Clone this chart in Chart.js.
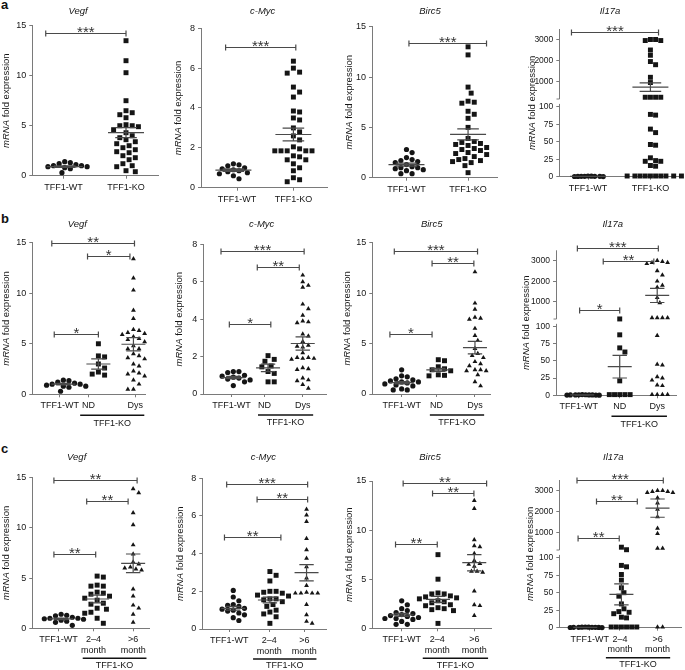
<!DOCTYPE html>
<html>
<head>
<meta charset="utf-8">
<script src="https://cdn.jsdelivr.net/npm/chart.js@4.4.1/dist/chart.umd.min.js"></script>
<style>
  body { margin: 0; background: #fff; width: 685px; height: 670px; position: relative; overflow: hidden;
         font-family: 'Liberation Sans', Arial, Helvetica, sans-serif; }
  canvas { position: absolute; }
  .tag { position: absolute; font-weight: bold; font-size: 13px; line-height: 13px; color: #111; }
</style>
</head>
<body>
<div class="tag" style="left:1px;top:-2px">a</div>
<div class="tag" style="left:1px;top:212px">b</div>
<div class="tag" style="left:1px;top:442px">c</div>
<script>
// ---- values (fold expression per animal) ----
const catsA = ['TFF1-WT', 'TFF1-KO'];
const catsB = ['TFF1-WT', 'ND', 'Dys'];
const catsC = ['TFF1-WT', ['2–4', 'month'], ['>6', 'month']];
const ticks15 = [0, 5, 10, 15];
const ticks8 = [0, 2, 4, 6, 8];
const ticksIl = [0, 25, 50, 75, 100, 1000, 2000, 3000];

// row a
const aVegfWT = [1.4, 1.3, 1.2, 1.1, 1.0, 1.0, 0.9, 0.9, 0.8, 0.7, 0.3];
const aVegfKO = [13.5, 11.5, 10.3, 7.5, 6.5, 6.3, 6.1, 5.8, 5.1, 5.0, 5.0, 4.9, 4.6, 4.3, 4.0, 3.8, 3.6, 3.4, 3.2, 3.0, 2.8, 2.6, 2.4, 2.3, 2.0, 1.8, 1.6, 1.2, 1.0, 0.9, 0.5, 0.4];
const aVegfMean = [0.9, 4.3], aVegfSem = [0.08, 0.5];
const aMycWT = [1.2, 1.15, 1.1, 1.0, 0.95, 0.9, 0.85, 0.8, 0.75, 0.7, 0.6, 0.45];
const aMycKO = [6.35, 6.0, 5.8, 5.75, 5.05, 4.8, 4.55, 3.85, 3.8, 3.5, 3.4, 3.0, 2.8, 2.6, 2.4, 2.05, 1.95, 1.85, 1.85, 1.85, 1.85, 1.85, 1.6, 1.55, 1.4, 1.4, 1.2, 1.0, 0.85, 0.5, 0.4, 0.3];
const aMycMean = [0.88, 2.67], aMycSem = [0.06, 0.32];
const aBircWT = [2.8, 2.5, 2.0, 1.8, 1.7, 1.6, 1.5, 1.3, 1.1, 1.0, 1.0, 0.9, 0.8, 0.7, 0.4, 0.4];
const aBircKO = [13.0, 12.2, 9.0, 8.4, 7.6, 7.5, 7.4, 6.6, 6.3, 5.9, 5.0, 3.9, 3.6, 3.5, 3.4, 3.3, 3.2, 3.0, 2.9, 2.8, 2.7, 2.5, 2.4, 2.3, 2.1, 1.9, 1.8, 1.7, 1.6, 1.5, 1.2, 0.5];
const aBircMean = [1.3, 4.3], aBircSem = [0.15, 0.55];
const aIlWT = [0.3, 0.5, 0.8, 0.5, 0.2, 0.6, 1.0, 0.4, 0.5];
const aIlKO = [3000, 2950, 2950, 3000, 2500, 2250, 1950, 1800, 1200, 950, 250, 250, 250, 250, 89, 88, 68, 63, 46, 45, 27, 23, 22, 22, 16, 15, 1, 1, 1, 1, 1, 1, 1, 1, 1, 1];
const aIlMean = [0.5, 730], aIlSem = [0.1, 200];

// row b
const bVegfWT = [1.4, 1.35, 1.2, 1.1, 1.0, 1.0, 0.9, 0.8, 0.8, 0.7, 0.3];
const bVegfND = [5.0, 3.8, 3.7, 3.0, 2.6, 2.2, 2.0, 1.9];
const bVegfDys = [13.4, 11.5, 10.3, 8.3, 7.5, 6.4, 6.3, 6.1, 6.0, 5.9, 5.7, 5.5, 5.2, 5.4, 4.8, 4.5, 4.5, 4.0, 3.8, 3.6, 3.5, 3.0, 2.8, 2.3, 2.1, 2.0, 1.8, 1.4, 1.0, 0.5, 0.5];
const bVegfMean = [1.0, 3.0, 4.95], bVegfSem = [0.08, 0.5, 0.65];
const bMycWT = [1.2, 1.2, 1.15, 1.0, 0.95, 0.9, 0.85, 0.8, 0.75, 0.65, 0.45];
const bMycND = [2.05, 1.85, 1.75, 1.5, 1.45, 1.2, 1.1, 0.65, 0.65];
const bMycDys = [6.35, 6.0, 5.8, 5.7, 4.8, 4.55, 4.2, 3.9, 3.85, 3.8, 3.2, 3.1, 2.8, 2.6, 2.55, 2.5, 2.2, 1.95, 1.95, 1.9, 1.9, 1.85, 1.4, 1.35, 1.3, 0.85, 0.75, 0.7, 0.5, 0.3];
const bMycMean = [0.88, 1.4, 2.7], bMycSem = [0.06, 0.2, 0.35];
const bBircWT = [2.4, 1.8, 1.7, 1.5, 1.4, 1.3, 1.2, 1.2, 1.1, 1.0, 0.9, 0.8, 0.5, 0.4, 0.4];
const bBircND = [3.4, 3.3, 2.7, 2.5, 2.4, 2.3, 1.9, 1.85, 1.8];
const bBircDys = [12.1, 9.0, 8.4, 7.6, 7.5, 7.4, 6.5, 5.8, 5.3, 4.5, 4.0, 3.8, 3.6, 3.2, 3.0, 2.8, 2.4, 2.4, 2.3, 2.3, 1.9, 1.2, 0.8];
const bBircMean = [1.12, 2.4, 4.6], bBircSem = [0.12, 0.15, 0.62];
const bIlWT = [0.3, 0.5, 0.8, 0.5, 0.2, 0.6, 1.0, 0.4, 0.5, 0.7];
const bIlND = [170, 88, 69, 63, 21, 1, 1, 1, 1, 1];
const bIlDys = [3000, 2950, 2900, 2900, 2850, 2500, 2300, 2000, 1800, 1700, 1200, 950, 220, 220, 220, 220, 87, 45, 44, 27, 25, 22, 15, 14, 1, 1, 1, 1];
const bIlMean = [0.5, 41.7, 1309], bIlSem = [0.1, 16.5, 340];

// row c
const cVegfWT = [1.4, 1.3, 1.25, 1.1, 1.0, 1.0, 0.95, 0.9, 0.8, 0.7, 0.6, 0.3];
const cVegf24 = [5.2, 5.1, 4.3, 4.2, 4.2, 3.6, 3.5, 3.4, 3.2, 3.0, 2.8, 2.5, 2.4, 2.0, 1.9, 1.6, 1.5, 1.0, 0.5];
const cVegf6 = [13.9, 13.5, 11.5, 10.3, 8.3, 7.4, 6.6, 6.4, 6.1, 6.0, 5.9, 5.8, 3.9, 3.2, 2.3, 2.0, 1.4, 0.6];
const cVegfMean = [0.93, 2.92, 6.47], cVegfSem = [0.08, 0.38, 0.93];
const cMycWT = [2.05, 1.7, 1.5, 1.3, 1.25, 1.2, 1.1, 1.05, 1.0, 0.95, 0.85, 0.75, 0.6, 0.45];
const cMyc24 = [3.05, 2.85, 2.55, 2.0, 2.0, 1.95, 1.9, 1.8, 1.75, 1.6, 1.6, 1.55, 1.45, 1.3, 1.2, 1.0, 0.9, 0.8, 0.65, 0.3];
const cMyc6 = [6.35, 6.05, 5.7, 4.8, 4.2, 3.75, 3.3, 2.7, 2.3, 1.95, 1.9, 1.9, 1.9, 1.9, 1.3, 0.75, 0.4, 0.3];
const cMycMean = [1.1, 1.54, 2.99], cMycSem = [0.1, 0.15, 0.43];
const cBircWT = [2.8, 2.4, 2.0, 1.8, 1.6, 1.5, 1.4, 1.3, 1.2, 1.1, 1.0, 1.0, 0.9, 0.7, 0.4, 0.4];
const cBirc24 = [7.5, 5.0, 3.6, 3.5, 3.5, 3.3, 3.2, 3.1, 3.0, 2.8, 2.7, 2.6, 2.4, 2.3, 2.1, 2.0, 1.9, 1.8, 0.5];
const cBirc6 = [13.0, 12.2, 9.0, 8.4, 8.3, 7.6, 6.9, 6.6, 6.5, 6.3, 5.8, 5.8, 5.7, 3.8, 2.4, 2.3, 1.3];
const cBircMean = [1.36, 2.95, 6.68], cBircSem = [0.15, 0.3, 0.83];
const cIlWT = [0.3, 0.5, 0.8, 0.5, 0.2, 0.6, 1.0, 0.4, 0.5, 0.7];
const cIl24 = [300, 180, 89, 87, 76, 68, 57, 50, 45, 34, 27, 23, 22, 20, 15, 14, 1, 1, 1, 1, 1, 1];
const cIl6 = [3000, 3000, 2950, 2950, 2900, 2900, 2650, 2400, 2100, 1750, 1200, 950, 250, 250, 1, 1];
const cIlMean = [0.5, 47.6, 2161], cIlSem = [0.1, 15, 435];

// ---- look ----
const FONT = "'Liberation Sans', Arial, Helvetica, sans-serif";
const INK = '#151515';
const AXIS = '#7a7a7a';
const LINE = '#4a4a4a';
const STYLES = ['circle', 'rect', 'triangle'];
const RADII = [2.6, 3.5, 2.8];
const GAPS = [5.6, 6.2, 5.6];

// Il17a has a broken axis: 0-100 kept as is, everything above squeezed
const BRK_G = 6, BRK_S = 0.03;
function il17(v) { return v <= 100 ? v : 100 + BRK_G + v * BRK_S; }
function same(v) { return v; }

// panel layout (page pixels) - cell = canvas box, plot = axes box
const panels = [
  { gene: 'Vegf', cell: [0, 0, 175, 212], plot: [32.3, 25.7, 158, 175.7], x: [0.471, 2.522], yMax: 15, yTicks: ticks15,
    cats: catsA, labelX: [0.98, 2.0], groups: [aVegfWT, aVegfKO], mean: aVegfMean, sem: aVegfSem,
    brackets: [[0.69, 2.0, 14.23, '***']], title: [78, 11], yTitleX: 6.7, half: 18 },
  { gene: 'c-Myc', cell: [170, 0, 175, 212], plot: [201, 28.3, 327, 187.7], x: [0.46, 2.56], yMax: 8, yTicks: ticks8,
    cats: catsA, labelX: [1.06, 2.0], groups: [aMycWT, aMycKO], mean: aMycMean, sem: aMycSem,
    brackets: [[0.87, 2.04, 7.08, '***']], title: [262.7, 11], yTitleX: 178.3, half: 18 },
  { gene: 'Birc5', cell: [340, 0, 175, 212], plot: [372, 26.7, 497, 177.7], x: [0.44, 2.47], yMax: 15, yTicks: ticks15,
    cats: catsA, labelX: [1.0, 2.0], groups: [aBircWT, aBircKO], mean: aBircMean, sem: aBircSem,
    brackets: [[1.04, 2.3, 13.35, '***']], title: [430, 11], yTitleX: 349, half: 18 },
  { gene: 'Il17a', cell: [510, 0, 175, 212], plot: [559.3, 29, 681.7, 176.7], x: [0.54, 2.49], yMax: 211, yTicks: ticksIl, broken: true,
    cats: catsA, labelX: [1.0, 2.0], groups: [aIlWT, aIlKO], mean: aIlMean, sem: aIlSem, gaps: [3.4, 5.2],
    brackets: [[0.735, 2.13, 206.3, '***']], title: [610, 11], yTitleX: 532.3, half: 18 },

  { gene: 'Vegf', cell: [0, 200, 175, 235], plot: [32.3, 242.7, 145, 394.3], x: [0.114, 3.33], yMax: 15, yTicks: ticks15,
    cats: catsB, labelX: [0.9, 1.72, 3.05], groups: [bVegfWT, bVegfND, bVegfDys], mean: bVegfMean, sem: bVegfSem,
    brackets: [[0.74, 2.0, 5.97, '*'], [1.69, 2.9, 13.68, '*'], [0.67, 3.03, 14.94, '**']],
    title: [77.3, 224], yTitleX: 6.7, half: 12, koLine: [1.48, 3.31], koY: [21, 29] },
  { gene: 'c-Myc', cell: [170, 200, 175, 235], plot: [203.3, 244.3, 326.7, 394], x: [0.135, 3.69], yMax: 8, yTicks: ticks8,
    cats: catsB, labelX: [0.95, 1.9, 3.0], groups: [bMycWT, bMycND, bMycDys], mean: bMycMean, sem: bMycSem,
    brackets: [[0.885, 2.08, 3.74, '*'], [1.69, 2.9, 6.77, '**'], [0.645, 3.04, 7.65, '***']],
    title: [261.7, 224], yTitleX: 179, half: 12, koLine: [1.71, 3.3], koY: [21, 29] },
  { gene: 'Birc5', cell: [340, 200, 175, 235], plot: [372.3, 242.7, 490, 394], x: [0.2, 3.41], yMax: 15, yTicks: ticks15,
    cats: catsB, labelX: [1.0, 1.95, 3.0], groups: [bBircWT, bBircND, bBircDys], mean: bBircMean, sem: bBircSem,
    brackets: [[0.68, 1.83, 5.91, '*'], [1.83, 2.97, 12.95, '**'], [0.8, 3.07, 14.17, '***']],
    title: [431.7, 224], yTitleX: 347.5, half: 12, koLine: [1.77, 3.25], koY: [21, 29] },
  { gene: 'Il17a', cell: [510, 200, 175, 235], plot: [556, 250.3, 676.7, 395.3], x: [0.3, 3.52], yMax: 211, yTicks: ticksIl, broken: true,
    cats: catsB, labelX: [0.91, 2.0, 3.0], groups: [bIlWT, bIlND, bIlDys], mean: bIlMean, sem: bIlSem, gaps: [3.4, 5.2, 5.2],
    brackets: [[0.93, 2.0, 124, '*'], [1.56, 2.91, 196, '**'], [0.87, 3.03, 214, '***']],
    title: [612.7, 224], yTitleX: 526, half: 12, koLine: [1.78, 3.26], koY: [21, 29] },

  { gene: 'Vegf', cell: [0, 430, 175, 240], plot: [32.3, 477.7, 149, 628.3], x: [0.2, 3.44], yMax: 15, yTicks: ticks15,
    cats: catsC, labelX: [0.925, 1.9, 3.0], groups: [cVegfWT, cVegf24, cVegf6], mean: cVegfMean, sem: cVegfSem,
    brackets: [[0.8, 1.96, 7.37, '**'], [1.71, 2.86, 12.71, '**'], [0.8, 3.11, 14.77, '**']],
    title: [76.7, 457.7], yTitleX: 6.7, half: 12, koLine: [1.6, 3.37], koY: [30, 37] },
  { gene: 'c-Myc', cell: [170, 430, 175, 240], plot: [202.3, 478.3, 326.7, 629], x: [0.155, 3.55], yMax: 8, yTicks: ticks8,
    cats: catsC, labelX: [0.89, 1.98, 2.94], groups: [cMycWT, cMyc24, cMyc6], mean: cMycMean, sem: cMycSem,
    brackets: [[0.76, 2.3, 4.87, '**'], [1.65, 3.03, 6.88, '**'], [0.82, 3.03, 7.7, '***']],
    title: [263.3, 457.7], yTitleX: 180.7, half: 12, koLine: [1.54, 3.27], koY: [30, 37] },
  { gene: 'Birc5', cell: [340, 430, 175, 240], plot: [372.3, 481, 491.7, 628.3], x: [0.19, 3.48], yMax: 15, yTicks: ticks15,
    cats: catsC, labelX: [1.0, 1.98, 3.0], groups: [cBircWT, cBirc24, cBirc6], mean: cBircMean, sem: cBircSem,
    brackets: [[0.83, 1.98, 8.58, '**'], [1.85, 2.99, 13.81, '**'], [1.04, 3.34, 14.83, '**']],
    title: [430, 457.7], yTitleX: 349, half: 12, koLine: [1.58, 3.38], koY: [30, 37] },
  { gene: 'Il17a', cell: [510, 430, 175, 240], plot: [559.3, 480, 683, 627.7], x: [0.28, 3.65], yMax: 211, yTicks: ticksIl, broken: true,
    cats: catsC, labelX: [1.12, 1.96, 3.0], groups: [cIlWT, cIl24, cIl6], mean: cIlMean, sem: cIlSem, gaps: [3.4, 5.2, 5.2],
    brackets: [[0.8, 1.94, 128.6, '**'], [1.31, 2.44, 181.4, '**'], [0.77, 3.16, 211, '***']],
    title: [613.3, 457.7], yTitleX: 530, half: 12, koLine: [1.57, 3.35], koY: [30, 37] }
];

// simple beeswarm: place each point at the smallest sideways shift that does not overlap
function swarm(vals, pxY, pxX, gap) {
  const order = vals.map((v, i) => i).sort((a, b) => vals[b] - vals[a]);
  const placed = [];
  const off = vals.map(() => 0);
  order.forEach(i => {
    const py = vals[i] * pxY;
    for (let k = 0; k < 80; k++) {
      const ox = (k % 2 ? 1 : -1) * Math.ceil(k / 2) * gap * 0.5;
      if (placed.every(q => Math.hypot(q[0] - ox, q[1] - py) >= gap)) {
        placed.push([ox, py]);
        off[i] = ox / pxX;
        break;
      }
    }
  });
  return off;
}

function decor(p, disp) {
  const ox = p.cell[0], oy = p.cell[1];
  return {
    id: 'decor',
    afterDraw(chart) {
      const ctx = chart.ctx, xs = chart.scales.x, ys = chart.scales.y;
      const area = chart.chartArea;
      ctx.save();
      // broken y axis
      if (p.broken) {
        ctx.strokeStyle = AXIS; ctx.lineWidth = 1;
        const xl = Math.round(area.left) + 0.5;
        ctx.beginPath();
        ctx.moveTo(xl, ys.getPixelForValue(0)); ctx.lineTo(xl, ys.getPixelForValue(104));
        const yb = ys.getPixelForValue(111);
        ctx.moveTo(xl, yb); ctx.lineTo(xl, area.top);
        ctx.moveTo(xl - 3, yb); ctx.lineTo(xl, yb);
        ctx.stroke();
      }
      // mean +/- SEM
      ctx.strokeStyle = LINE; ctx.lineWidth = 1.2;
      p.mean.forEach((m, g) => {
        const X = xs.getPixelForValue(g + 1);
        const Y = ys.getPixelForValue(disp(m));
        const Yu = ys.getPixelForValue(disp(m + p.sem[g]));
        const Yl = ys.getPixelForValue(disp(Math.max(m - p.sem[g], 0)));
        const w = p.half * 0.6;
        ctx.beginPath();
        ctx.moveTo(X - p.half, Y); ctx.lineTo(X + p.half, Y);
        ctx.moveTo(X - w, Yu); ctx.lineTo(X + w, Yu);
        ctx.moveTo(X - w, Yl); ctx.lineTo(X + w, Yl);
        ctx.moveTo(X, Yu); ctx.lineTo(X, Yl);
        ctx.stroke();
      });
      // significance brackets
      ctx.fillStyle = '#333';
      ctx.font = '15px ' + FONT;
      ctx.textAlign = 'center'; ctx.textBaseline = 'alphabetic';
      p.brackets.forEach(b => {
        const x1 = xs.getPixelForValue(b[0]), x2 = xs.getPixelForValue(b[1]);
        const y = Math.round(ys.getPixelForValue(b[2])) + 0.5;
        ctx.beginPath();
        ctx.moveTo(x1, y); ctx.lineTo(x2, y);
        ctx.moveTo(x1, y - 3); ctx.lineTo(x1, y + 3);
        ctx.moveTo(x2, y - 3); ctx.lineTo(x2, y + 3);
        ctx.stroke();
        ctx.fillText(b[3], (x1 + x2) / 2, y + 3);
      });
      // gene title
      ctx.fillStyle = INK;
      ctx.font = 'italic 9.5px ' + FONT;
      ctx.textBaseline = 'middle';
      ctx.fillText(p.gene, p.title[0] - ox, p.title[1] - oy);
      // y axis title, "mRNA" in italics
      ctx.save();
      ctx.translate(p.yTitleX - ox, (area.top + area.bottom) / 2);
      ctx.rotate(-Math.PI / 2);
      ctx.font = 'italic 9.5px ' + FONT;
      const w1 = ctx.measureText('mRNA').width;
      ctx.font = '9.5px ' + FONT;
      const w2 = ctx.measureText(' fold expression').width;
      ctx.textAlign = 'left';
      ctx.font = 'italic 9.5px ' + FONT;
      ctx.fillText('mRNA', -(w1 + w2) / 2, 0);
      ctx.font = '9.5px ' + FONT;
      ctx.fillText(' fold expression', -(w1 + w2) / 2 + w1, 0);
      ctx.restore();
      // TFF1-KO group line
      if (p.koLine) {
        const x1 = xs.getPixelForValue(p.koLine[0]), x2 = xs.getPixelForValue(p.koLine[1]);
        const y = area.bottom + p.koY[0];
        ctx.strokeStyle = '#111'; ctx.lineWidth = 1.4;
        ctx.beginPath(); ctx.moveTo(x1, y); ctx.lineTo(x2, y); ctx.stroke();
        ctx.font = '9px ' + FONT; ctx.textAlign = 'center';
        ctx.fillText('TFF1-KO', (x1 + x2) / 2, area.bottom + p.koY[1]);
      }
      ctx.restore();
    }
  };
}

panels.forEach(p => {
  const [cx, cy, cw, ch] = p.cell;
  const [pl, pt, pr, pb] = p.plot;
  const cv = document.createElement('canvas');
  cv.width = cw; cv.height = ch;
  cv.style.left = cx + 'px'; cv.style.top = cy + 'px';
  cv.style.width = cw + 'px'; cv.style.height = ch + 'px';
  document.body.appendChild(cv);

  const disp = p.broken ? il17 : same;
  const pxY = (pb - pt) / p.yMax;
  const pxX = (pr - pl) / (p.x[1] - p.x[0]);
  const datasets = p.groups.map((vals, g) => {
    const shown = vals.map(disp);
    const off = swarm(shown, pxY, pxX, p.gaps ? p.gaps[g] : GAPS[g]);
    return {
      data: shown.map((v, j) => ({ x: g + 1 + off[j], y: v })),
      pointStyle: STYLES[g],
      pointRadius: RADII[g],
      backgroundColor: INK,
      borderWidth: 0,
      clip: false
    };
  });

  new Chart(cv, {
    type: 'scatter',
    data: { datasets },
    options: {
      responsive: false,
      animation: false,
      events: [],
      layout: { padding: { left: 0, top: pt - cy, right: cx + cw - pr, bottom: 0 } },
      plugins: { legend: { display: false }, tooltip: { enabled: false } },
      scales: {
        x: {
          type: 'linear', min: p.x[0], max: p.x[1],
          afterFit: s => { s.height = cy + ch - pb; },
          afterBuildTicks: s => { s.ticks = p.labelX.map(v => ({ value: v })); },
          ticks: { autoSkip: false, maxRotation: 0, padding: 3, color: INK,
                   font: { family: FONT, size: 9, lineHeight: 1.2 },
                   callback: (v, i) => p.cats[i] },
          grid: { drawOnChartArea: false, tickLength: 3, color: AXIS },
          border: { color: AXIS, width: 1 }
        },
        y: {
          type: 'linear', min: 0, max: p.yMax,
          afterFit: s => { s.width = pl - cx; },
          afterBuildTicks: s => { s.ticks = p.yTicks.map(v => ({ value: disp(v) })); },
          ticks: { autoSkip: false, padding: 3, color: INK, font: { family: FONT, size: p.broken ? 8.5 : 9 },
                   callback: (v, i) => String(p.yTicks[i]) },
          grid: { drawOnChartArea: false, tickLength: 3, color: AXIS },
          border: { display: !p.broken, color: AXIS, width: 1 }
        }
      }
    },
    plugins: [decor(p, disp)]
  });
});
</script>
</body>
</html>
